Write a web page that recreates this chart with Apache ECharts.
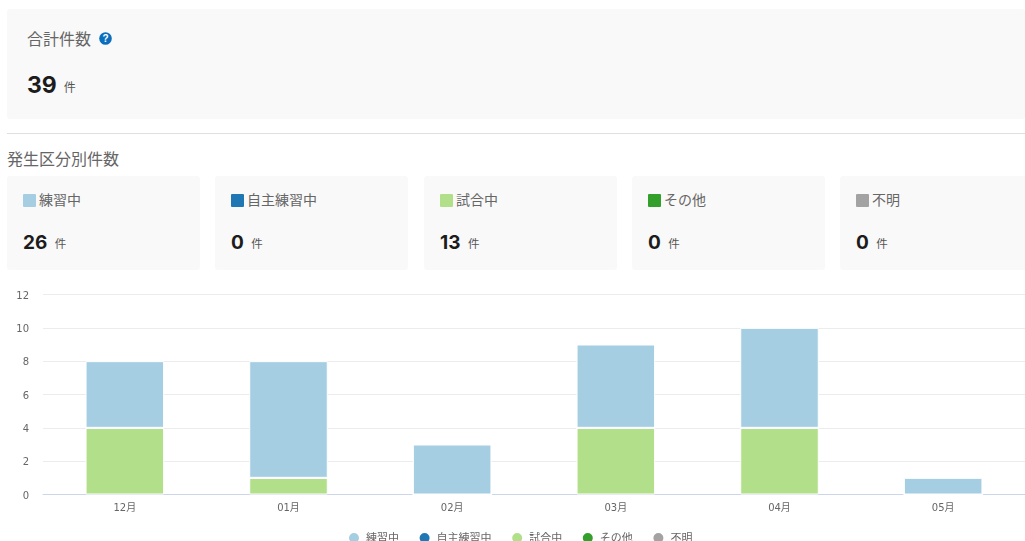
<!DOCTYPE html>
<html lang="ja"><head><meta charset="utf-8">
<script src="https://cdn.jsdelivr.net/npm/echarts@6/dist/echarts.min.js"></script>
<style>
html,body{margin:0;padding:0;background:#fff;width:1025px;height:541px;overflow:hidden;font-family:"Inter","Noto Sans CJK JP",sans-serif;color:#222}
.abs{position:absolute}
.card{position:absolute;background:#f9f9f9;border-radius:3px}
.t{position:absolute;white-space:nowrap;line-height:1}
.jp{font-family:"Noto Sans CJK JP",sans-serif;color:#666}
.num{font-family:"Inter",sans-serif;font-weight:700;color:#1c1c1c}
.unit{font-family:"Noto Sans CJK JP",sans-serif;color:#555;font-size:11.5px;font-weight:400;margin-left:7.5px;position:relative;top:-1px}
#chart{position:absolute;left:0;top:280px;width:1025px;height:261px}
</style></head><body>
<div class="card" style="left:7px;top:9px;width:1018px;height:110px"></div>
<div class="t jp" style="left:27px;top:30px;font-size:16px">合計件数</div>
<svg class="abs" style="left:99px;top:32px" width="13" height="13" viewBox="0 0 13 13"><circle cx="6.5" cy="6.5" r="6.3" fill="#0a6ebd"/><text x="6.5" y="10" font-size="10" font-weight="700" text-anchor="middle" fill="#fff" font-family="Liberation Sans">?</text></svg>
<div class="t num" style="left:27px;top:74px;font-size:23px">39<span class="unit" style="font-size:12px;margin-left:7px">件</span></div>
<div class="abs" style="left:7px;top:133px;width:1018px;height:1px;background:#dfdfe3"></div>
<div class="t jp" style="left:7px;top:150px;font-size:16px">発生区分別件数</div>
<div id="cards"></div>
<div id="chart"></div>
<script>
const months = ['12月','01月','02月','03月','04月','05月'];
const legendOrder = ['練習中','自主練習中','試合中','その他','不明'];
const colors = {'練習中':'#a6cee3','自主練習中':'#1f78b4','試合中':'#b2df8a','その他':'#33a02c','不明':'#a3a3a3'};
const practice = [4,7,3,5,6,1];
const selfPractice = [0,0,0,0,0,0];
const match = [4,1,0,4,4,0];
const other = [0,0,0,0,0,0];
const unknown = [0,0,0,0,0,0];
const totals = [26,0,13,0,0];
const yTicks = {min:0,max:12,interval:2};

const cardLefts = [7,215,424,632,840];
const cardsEl = document.getElementById('cards');
legendOrder.forEach((name,i)=>{
  const x = cardLefts[i];
  cardsEl.insertAdjacentHTML('beforeend',
    `<div class="card" style="left:${x}px;top:176px;width:193px;height:94px"></div>
     <div class="abs" style="left:${x+16}px;top:194px;width:13px;height:13px;border-radius:1px;background:${colors[name]}"></div>
     <div class="t jp" style="left:${x+32}px;top:192px;font-size:14px">${name}</div>
     <div class="t num" style="left:${x+16}px;top:233px;font-size:19px">${totals[i]}<span class="unit">件</span></div>`);
});

const chart = echarts.init(document.getElementById('chart'),null,{renderer:'canvas'});
const mk = (name,data)=>({name,type:'bar',stack:'a',data,barWidth:'48%',
  itemStyle:{color:colors[name],borderColor:'#fff',borderWidth:1}});
chart.setOption({
  animation:false,
  textStyle:{fontFamily:'"Noto Sans CJK JP",sans-serif'},
  grid:{left:43,right:0,top:14.5,bottom:46.5,containLabel:false},
  legend:{data:legendOrder,top:246,left:342,icon:'circle',itemWidth:12,itemHeight:12,itemGap:18.6,
    textStyle:{fontSize:11,color:'#666',padding:[0,0,0,1]}},
  xAxis:{type:'category',data:months,axisTick:{show:false},
    axisLine:{lineStyle:{color:'#ccd6eb'}},
    axisLabel:{fontSize:10,color:'#666',margin:9,fontFamily:'"DejaVu Sans","Noto Sans CJK JP",sans-serif'}},
  yAxis:{type:'value',...yTicks,axisLine:{show:false},axisTick:{show:false},
    axisLabel:{fontSize:10,color:'#666',margin:14,verticalAlign:'top',lineHeight:3,fontFamily:'"DejaVu Sans",sans-serif'},
    splitLine:{lineStyle:{color:'#ececec'}}},
  series:[mk('試合中',match),mk('その他',other),mk('不明',unknown),mk('自主練習中',selfPractice),mk('練習中',practice)]
});
</script></body></html>
